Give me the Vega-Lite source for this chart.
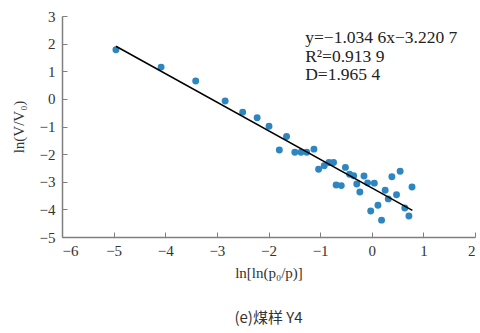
{
  "$schema": "https://vega.github.io/schema/vega-lite/v6.json",
  "width": 413,
  "height": 221,
  "autosize": {"type": "none"},
  "padding": {"left": 62, "top": 16, "right": 5, "bottom": 96},
  "background": "white",
  "title": {
    "text": "(e)煤样 Y4",
    "orient": "bottom",
    "anchor": "middle",
    "font": "Noto Sans CJK SC",
    "fontSize": 15,
    "fontWeight": "normal",
    "color": "#333333",
    "offset": 31
  },
  "config": {
    "view": {"stroke": null},
    "axis": {
      "domainColor": "#7f7f7f",
      "tickColor": "#7f7f7f",
      "grid": false,
      "labelFont": "Liberation Serif",
      "labelFontSize": 15,
      "labelColor": "#333333",
      "titleFont": "Liberation Serif",
      "titleFontSize": 15,
      "titleFontWeight": "normal",
      "titleColor": "#333333",
      "tickSize": -5,
      "domainWidth": 1.5,
      "tickWidth": 1
    }
  },
  "datasets": {
    "points": [
      {"x": -4.955, "y": 1.78},
      {"x": -4.08, "y": 1.15},
      {"x": -3.41, "y": 0.65},
      {"x": -2.84, "y": -0.08},
      {"x": -2.50, "y": -0.48},
      {"x": -2.22, "y": -0.68},
      {"x": -1.99, "y": -0.99},
      {"x": -1.65, "y": -1.36},
      {"x": -1.79, "y": -1.85},
      {"x": -1.49, "y": -1.93},
      {"x": -1.37, "y": -1.93},
      {"x": -1.26, "y": -1.93},
      {"x": -1.12, "y": -1.82},
      {"x": -1.03, "y": -2.55},
      {"x": -0.92, "y": -2.42},
      {"x": -0.83, "y": -2.30},
      {"x": -0.74, "y": -2.30},
      {"x": -0.69, "y": -3.12},
      {"x": -0.59, "y": -3.14},
      {"x": -0.51, "y": -2.48},
      {"x": -0.43, "y": -2.73},
      {"x": -0.35, "y": -2.78},
      {"x": -0.29, "y": -3.08},
      {"x": -0.23, "y": -3.37},
      {"x": -0.15, "y": -2.79},
      {"x": -0.08, "y": -3.04},
      {"x": 0.05, "y": -3.05},
      {"x": -0.02, "y": -4.06},
      {"x": 0.12, "y": -3.85},
      {"x": 0.19, "y": -4.39},
      {"x": 0.26, "y": -3.31},
      {"x": 0.32, "y": -3.62},
      {"x": 0.39, "y": -2.82},
      {"x": 0.48, "y": -3.47},
      {"x": 0.55, "y": -2.62},
      {"x": 0.64, "y": -3.95},
      {"x": 0.72, "y": -4.24},
      {"x": 0.78, "y": -3.19}
    ],
    "fit": [
      {"x": -4.955, "y": 1.906},
      {"x": 0.787, "y": -4.035}
    ],
    "notes": [
      {"x": -1.29, "y": 2.19, "label": "y=−1.034 6x−3.220 7"},
      {"x": -1.29, "y": 1.52, "label": "R²=0.913 9"},
      {"x": -1.29, "y": 0.86, "label": "D=1.965 4"}
    ]
  },
  "encoding": {
    "x": {
      "field": "x",
      "type": "quantitative",
      "scale": {"domain": [-6, 2], "nice": false, "zero": false},
      "axis": {"values": [-6, -5, -4, -3, -2, -1, 0, 1, 2], "title": "ln[ln(p₀/p)]", "labelPadding": 11, "titlePadding": 7, "format": "d", "labelFont": "Liberation Serif", "titleFont": "Liberation Serif", "labelExpr": "replace(datum.label, '-', '−')"}
    },
    "y": {
      "field": "y",
      "type": "quantitative",
      "scale": {"domain": [-5, 3], "nice": false, "zero": false},
      "axis": {"values": [-5, -4, -3, -2, -1, 0, 1, 2, 3], "title": "ln(V/V₀)", "labelPadding": 12, "titlePadding": 13, "format": "d", "labelFont": "Liberation Serif", "titleFont": "Liberation Serif", "labelExpr": "replace(datum.label, '-', '−')"}
    }
  },
  "layer": [
    {
      "data": {"name": "points"},
      "mark": {"type": "circle", "size": 48, "color": "#2e86c1", "opacity": 1}
    },
    {
      "data": {"name": "fit"},
      "mark": {"type": "line", "color": "#000000", "strokeWidth": 1.5}
    },
    {
      "data": {"name": "notes"},
      "mark": {"type": "text", "align": "left", "baseline": "middle", "font": "Liberation Serif", "fontSize": 17.5, "color": "#222222"},
      "encoding": {"text": {"field": "label"}}
    }
  ]
}
